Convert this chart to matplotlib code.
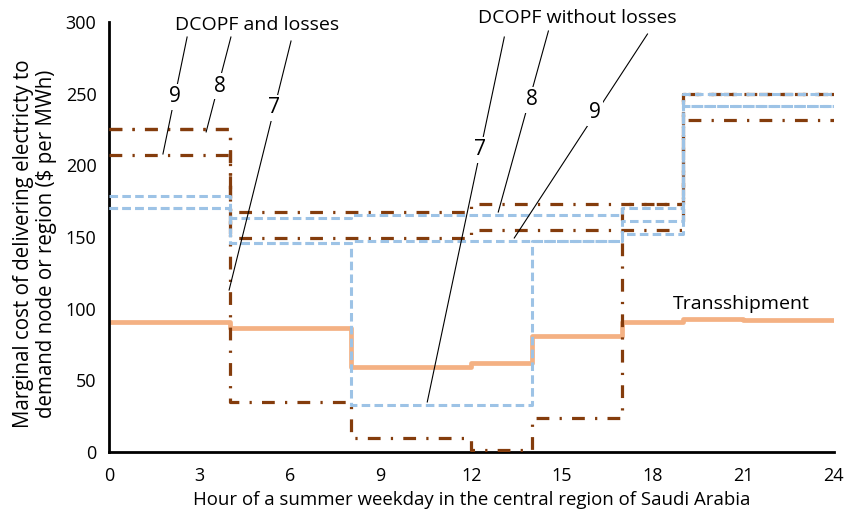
import numpy as np
import matplotlib.pyplot as plt

# segment boundaries (hour of day) and the value held over each segment
edges = [0, 4, 8, 12, 14, 17, 19, 21, 24]

transshipment = [90.5, 86.7, 59, 62, 81, 91, 92.6, 92.3]

# DCOPF and losses (brown, dash-dot)
loss_7 = [225, 35, 10, 1.5, 23.7, 173, 250, 250]
loss_8 = [225, 167.5, 167.5, 173, 173, 173, 250, 250]
loss_9 = [207, 149.5, 149.5, 155, 155, 155, 231.5, 231.5]

# DCOPF without losses (blue, dashed)
noloss_7 = [170, 146, 33, 33, 147, 152, 241.4, 241.4]
noloss_8 = [178.6, 163.3, 165.5, 165.5, 165.5, 170, 250, 250]
noloss_9 = [170, 146, 147.4, 147.4, 147.4, 161, 241.4, 241.4]

x_ticks = [0, 3, 6, 9, 12, 15, 18, 21, 24]
y_ticks = [0, 50, 100, 150, 200, 250, 300]

BROWN = "#843c0c"
BLUE = "#9dc3e6"
ORANGE = "#f4b183"
FS = 14

plt.rcParams["font.family"] = "Open Sans"


def step(ax, vals, **kw):
    # repeat the last value so the final segment reaches hour 24
    ax.step(edges, list(vals) + [vals[-1]], where="post", **kw)


fig = plt.figure(figsize=(8.44, 5.11), dpi=100)
ax = fig.add_axes([0.129, 0.1155, 0.859, 0.8415])

step(ax, transshipment, color=ORANGE, lw=3.4, zorder=2)
for s in (loss_7, loss_8, loss_9):
    step(ax, s, color=BROWN, lw=2.3, linestyle=(0, (4, 3.2, 0.7, 3.2)), zorder=3)
for s in (noloss_7, noloss_8, noloss_9):
    step(ax, s, color=BLUE, lw=2.2, linestyle=(0, (2.8, 1.4)), zorder=4)

ax.set_xlim(0, 24)
ax.set_ylim(0, 300)
ax.set_xticks(x_ticks)
ax.set_yticks(y_ticks)
ax.tick_params(length=0, labelsize=13)
ax.tick_params(axis="x", pad=11)
ax.tick_params(axis="y", pad=9)
for s in ("top", "right"):
    ax.spines[s].set_visible(False)
for s in ("left", "bottom"):
    ax.spines[s].set_linewidth(2)

ax.set_xlabel("Hour of a summer weekday in the central region of Saudi Arabia",
              fontsize=13.4, labelpad=4)
ax.set_ylabel("Marginal cost of delivering electricty to\n"
              r"demand node or region (\$ per MWh)", fontsize=14.8,
              linespacing=1.12)
ax.yaxis.set_label_coords(-0.071, 0.485)

# group titles
ax.text(4.9, 298, "DCOPF and losses", ha="center", va="center",
        fontsize=FS, clip_on=False)
ax.text(15.5, 303, "DCOPF without losses", ha="center", va="center",
        fontsize=FS, clip_on=False)
ax.text(20.95, 103.3, "Transshipment", ha="center", va="center", fontsize=FS)

# callouts: (label, line start, line end, label position)
callouts = [
    ("9", (2.59, 289.5), (1.79, 207.9), (2.19, 247.7)),
    ("8", (4.04, 289.5), (3.22, 223.3), (3.68, 255.3)),
    ("7", (6.03, 286.7), (3.98, 113.0), (5.47, 240.0)),
    ("7", (13.09, 289.5), (10.54, 34.9), (12.30, 210.7)),
    ("8", (14.55, 293.7), (12.89, 167.4), (13.99, 245.6)),
    ("9", (17.83, 291.6), (13.42, 149.3), (16.08, 236.5)),
]
for lab, p0, p1, pt in callouts:
    ax.plot([p0[0], p1[0]], [p0[1], p1[1]], color="black", lw=0.8,
            zorder=5, clip_on=False)
    ax.text(pt[0], pt[1], lab, ha="center", va="center", fontsize=15,
            zorder=6, bbox=dict(facecolor="white", edgecolor="none", pad=1.5))

fig.savefig("out.png", dpi=100)
